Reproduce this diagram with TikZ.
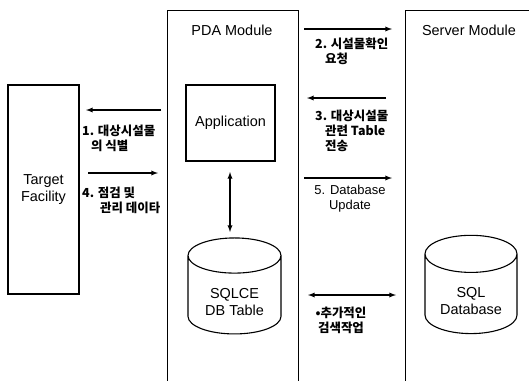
\documentclass[tikz,border=0pt]{standalone}
\usepackage{fontspec}
\setmainfont{Liberation Sans}
\newfontfamily\kr{Noto Sans CJK KR}
\usetikzlibrary{positioning,shapes.geometric,calc}

\begin{document}
\begin{tikzpicture}[x=1bp,y=-1bp]
\tikzstyle{box}=[rectangle, draw=black, line width=1.1bp, inner sep=0pt, align=center, font=\fontsize{14.5}{17}\selectfont]
\tikzstyle{module}=[rectangle, draw=black, line width=1.1bp, anchor=north west, inner sep=0pt]
\tikzstyle{title}=[inner sep=0pt, font=\fontsize{14.5}{17}\selectfont]
\tikzstyle{db}=[cylinder, shape border rotate=90, aspect=0.6, draw=black, line width=1.1bp, minimum width=93bp, minimum height=96bp, inner sep=0pt, align=center, font=\fontsize{14.5}{17}\selectfont]
\tikzstyle{connect}=[-latex, line width=1.3bp]
\tikzstyle{both}=[latex-latex, line width=1.3bp]
\tikzstyle{note}=[inner sep=0pt, anchor=west, align=left, font=\kr\bfseries\fontsize{12.5}{15}\selectfont]
  \clip (0,0) rectangle (529,380);
  \fill[white] (0,0) rectangle (529,380);
  % the three units
  \node[box, minimum width=71bp, minimum height=209bp] (target) at (43.5,189.5) {Target\\Facility};
  \node[module, minimum width=131bp, minimum height=420bp] (pda) at (167,10) {};
  \node[module, minimum width=200bp, minimum height=420bp] (server) at (405,10) {};
  \node[title] (pdatitle) at (232,30) {PDA Module};
  \node[title] (servertitle) at (469,30) {Server Module};
  % inside the PDA and the server
  \node[box, minimum width=89bp, minimum height=76bp] (app) at (230.5,123) {Application};
  \node[db] (sqlce) at (234.5,295) {\rule{0pt}{25bp}SQLCE\\DB Table};
  \node[db, minimum width=92bp] (sqldb) at (471,294) {\rule{0pt}{25bp}SQL\\Database};
  % arrow ends
  \coordinate (f1) at (161,110); \coordinate (t1) at (86,110);
  \coordinate (f4) at (88,173);  \coordinate (t4) at (158,173);
  \coordinate (f2) at (304,29);  \coordinate (t2) at (392,29);
  \coordinate (f3) at (386,98);  \coordinate (t3) at (307,98);
  \coordinate (f5) at (304,178); \coordinate (t5) at (392,178);
  \coordinate (fs) at (308,295); \coordinate (ts) at (396,295);
  \coordinate (fv) at (230,172); \coordinate (tv) at (230,232);
  \draw[connect] (f1) -- (t1);
  \draw[connect] (f4) -- (t4);
  \draw[connect] (f2) -- (t2);
  \draw[connect] (f3) -- (t3);
  \draw[connect] (f5) -- (t5);
  \draw[both] (fs) -- (ts);
  \draw[both] (fv) -- (tv);
  % labels
  \node[note] (n1) at (82,138) {1. 대상시설물\\\hspace*{9bp}의 식별};
  \node[note] (n4) at (82,200) {4. 점검 및\\\hspace*{18bp}관리 데이타};
  \node[note] (n2) at (315,51) {2. 시설물확인\\\hspace*{10bp}요청};
  \node[note] (n3) at (315,131) {3. 대상시설물\\\hspace*{10bp}관련 Table\\\hspace*{10bp}전송};
  \node[inner sep=0pt, align=center, font=\fontsize{13}{15}\selectfont] (n5) at (350,199) {5. Database\\Update};
  \node[note, anchor=center, align=center] (ns) at (341,320) {•추가적인\\검색작업};
\end{tikzpicture}
\end{document}
